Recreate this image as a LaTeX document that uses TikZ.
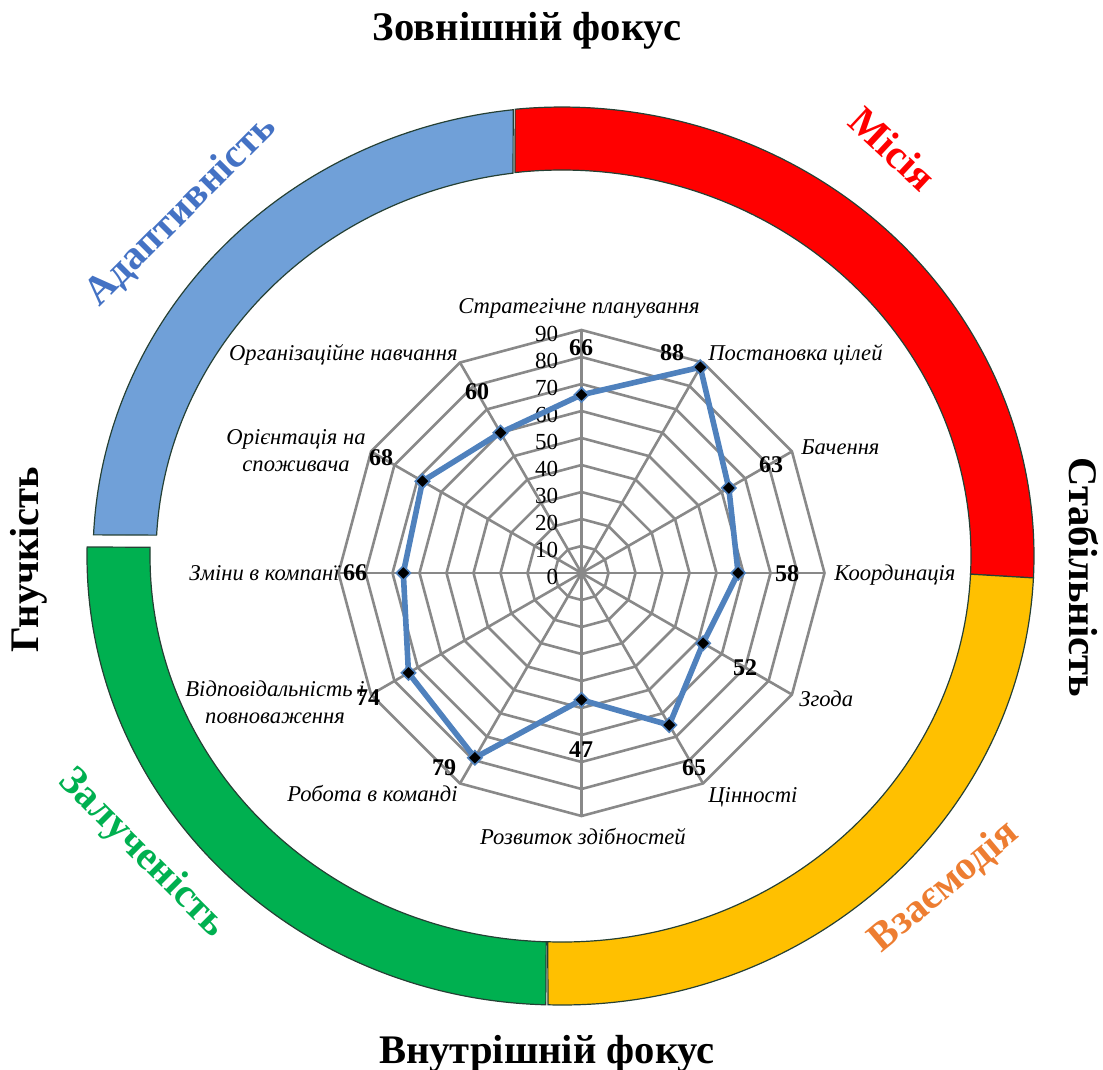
\documentclass[tikz,border=0pt]{standalone}
\usepackage{fontspec}
\setmainfont{Liberation Serif}
\usetikzlibrary{calc,shapes.geometric}

\definecolor{gridgray}{RGB}{137,137,137}
\definecolor{serieblue}{RGB}{79,129,189}
\definecolor{segred}{RGB}{255,0,0}
\definecolor{segblue}{RGB}{112,160,216}
\definecolor{seggreen}{RGB}{0,176,80}
\definecolor{segyellow}{RGB}{255,192,0}
\definecolor{segedge}{RGB}{37,64,52}
\definecolor{txtblue}{RGB}{68,114,196}
\definecolor{txtorange}{RGB}{237,125,49}

% one block of the outer elliptical ring:
% #1 colour, #2/#3 outer start/end angle, #4/#5 inner start/end angle
\newcommand\ringpiece[5]{%
  \path[ringseg, fill=#1] (#2:472 and 449)
    arc[start angle=#2, end angle=#3, x radius=472, y radius=449]
    -- (#5:409 and 386)
    arc[start angle=#5, end angle=#4, x radius=409, y radius=386] -- cycle;}

\begin{document}
\begin{tikzpicture}[x=0.5pt,y=0.5pt,
  ringseg/.style={draw=segedge, line width=0.6pt, line join=miter},
  gridline/.style={draw=gridgray, line width=1.3pt, line join=miter},
  serie/.style={draw=serieblue, line width=2.8pt, line join=round},
  marker/.style={diamond, fill=black, draw=serieblue, line width=0.8pt,
    inner sep=0pt, minimum size=7.5pt},
  axislabel/.style={inner sep=0pt, font=\fontsize{11.3}{13.5}\selectfont\itshape,
    text height=0.66em, text depth=0pt},
  valuelabel/.style={inner sep=0pt, font=\fontsize{12}{14}\selectfont\bfseries},
  ticklabel/.style={inner sep=0pt, anchor=east, font=\fontsize{11.5}{13}\selectfont},
  biglabel/.style={inner sep=0pt, font=\fontsize{20.3}{24}\selectfont\bfseries,
    text height=0.66em, text depth=0pt}]

\useasboundingbox (0,0) rectangle (1103,-1070);

% ---------- outer ring ----------
\begin{scope}[shift={(562,-556)}]
  \ringpiece{segred}{-2.8}{95.7}{-2.7}{96.6}
  \ringpiece{segyellow}{268.3}{357.2}{268.0}{357.3}
\end{scope}
\begin{scope}[shift={(565,-556)}]
  \ringpiece{segblue}{96.3}{177.3}{97.3}{176.9}
\end{scope}
\begin{scope}[shift={(559,-556)}]
  \ringpiece{seggreen}{178.85}{268.4}{178.7}{268.2}
\end{scope}

% ---------- radar chart ----------
\begin{scope}[shift={(581.5,-573)}]
  \coordinate (O) at (0,0);
  % web
  \foreach \k in {1,...,9}
    \draw[gridline] (90:{27*\k}) foreach \a in {60,30,...,-240} { -- (\a:{27*\k}) } -- cycle;
  \foreach \a [count=\i] in {90,60,...,-240}
    \draw[gridline] (O) -- (\a:243) coordinate (ax\i);
  % scale
  \foreach \k in {0,...,9}
    \node[ticklabel] (tick\k) at (-23,{27*\k-4}) {\the\numexpr\k*10\relax};
  % series
  \foreach \v/\a [count=\i] in {66/90,88/60,63/30,58/0,52/-30,65/-60,47/-90,79/-120,74/-150,66/-180,68/-210,60/-240}
    \coordinate (p\i) at (\a:{2.7*\v});
  \draw[serie] (p1) -- (p2) -- (p3) -- (p4) -- (p5) -- (p6) -- (p7) -- (p8)
    -- (p9) -- (p10) -- (p11) -- (p12) -- cycle;
  \foreach \i in {1,...,12}
    \node[marker] (m\i) at (p\i) {};
\end{scope}

% axis names
\node[axislabel] (l1) at (579,-307) {Стратегічне планування};
\node[axislabel, anchor=west] (l2) at (708,-354) {Постановка цілей};
\node[axislabel, anchor=west] (l3) at (801,-448) {Бачення};
\node[axislabel, anchor=west] (l4) at (834,-574) {Координація};
\node[axislabel, anchor=west] (l5) at (799,-700) {Згода};
\node[axislabel, anchor=west] (l6) at (708,-796) {Цінності};
\node[axislabel] (l7) at (583,-838) {Розвиток здібностей};
\node[axislabel, anchor=east] (l8) at (458,-795) {Робота в команді};
\node[axislabel, align=center] (l9) at (275,-717) {Відповідальність і\\повноваження};
\node[axislabel, anchor=east] (l10) at (340,-574) {Зміни в компанї};
\node[axislabel, align=center] (l11) at (296,-465) {Орієнтація на\\споживача};
\node[axislabel, anchor=east] (l12) at (458,-354) {Організаційне навчання};

% values
\node[valuelabel] (v1) at (581,-348) {66};
\node[valuelabel] (v2) at (672,-353) {88};
\node[valuelabel] (v3) at (771,-465) {63};
\node[valuelabel] (v4) at (787,-574) {58};
\node[valuelabel] (v5) at (745,-668) {52};
\node[valuelabel] (v6) at (694,-768) {65};
\node[valuelabel] (v7) at (581,-750) {47};
\node[valuelabel] (v8) at (444,-768) {79};
\node[valuelabel] (v9) at (368,-698) {74};
\node[valuelabel] (v10) at (355,-573) {66};
\node[valuelabel] (v11) at (381,-458) {68};
\node[valuelabel] (v12) at (477,-392) {60};

% orientation captions
\node[biglabel] (top) at (527,-34) {Зовнішній фокус};
\node[biglabel] (bottom) at (547,-1057) {Внутрішній фокус};
\node[biglabel, rotate=90] (left) at (32,-560) {Гнучкість};
\node[biglabel, rotate=-90] (right) at (1076,-577) {Стабільність};

% quadrant captions
\node[biglabel, text=segred, rotate=-43] (q1) at (888,-154) {Місія};
\node[biglabel, text=txtblue, rotate=45] (q2) at (184,-214) {Адаптивність};
\node[biglabel, text=seggreen, rotate=-45] (q3) at (140,-856) {Залученість};
\node[biglabel, text=txtorange, rotate=40] (q4) at (947,-890) {Взаємодія};

\end{tikzpicture}
\end{document}
